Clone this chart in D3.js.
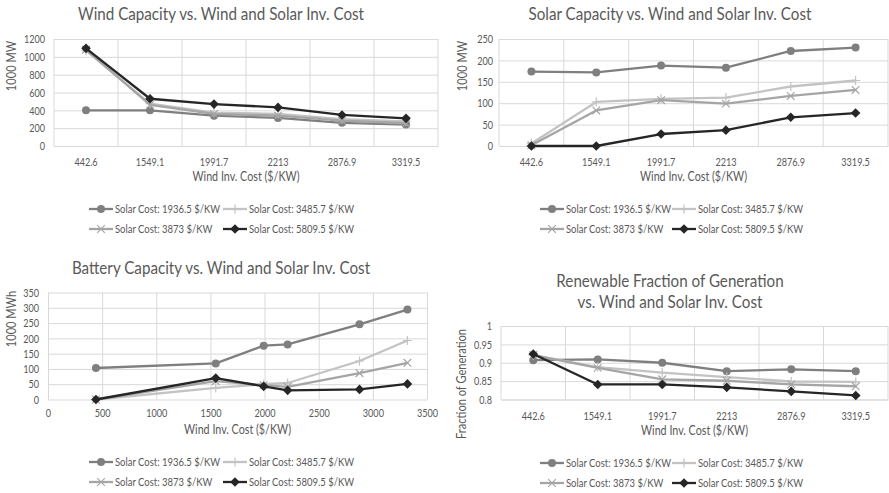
<!DOCTYPE html>
<html><head><meta charset="utf-8">
<script src="https://cdn.jsdelivr.net/npm/d3@7"></script>
<style>
body{margin:0;background:#fff;}
svg text{font-family:Lato,"Open Sans",sans-serif;fill:#595959;}
</style>
</head><body>
<svg id="chart" width="889" height="493"></svg>
<script>
// ---------- data ----------
const windCosts = [442.6, 1549.1, 1991.7, 2213, 2876.9, 3319.5];
const windTickLabels = ["442.6", "1549.1", "1991.7", "2213", "2876.9", "3319.5"];
const seriesNames = ["Solar Cost: 1936.5 $/KW", "Solar Cost: 3485.7 $/KW", "Solar Cost: 3873 $/KW", "Solar Cost: 5809.5 $/KW"];

const windCap1936 = [400, 400, 340, 315, 260, 240];
const windCap3486 = [1070, 475, 375, 360, 300, 275];
const windCap3873 = [1080, 460, 360, 340, 285, 255];
const windCap5810 = [1095, 530, 470, 433, 348, 310];

const solarCap1936 = [174, 172, 188, 183, 222, 230];
const solarCap3486 = [6, 103, 110, 113, 139, 153];
const solarCap3873 = [2, 83, 107, 99, 117, 131];
const solarCap5810 = [0, 0, 28, 37, 67, 77];

const battCap1936 = [103, 118, 176, 180, 246, 294];
const battCap3486 = [0, 38, 50, 54, 126, 193];
const battCap3873 = [0, 60, 47, 41, 86, 120];
const battCap5810 = [0, 70, 43, 30, 33, 51];

const renFrac1936 = [0.907, 0.909, 0.900, 0.877, 0.882, 0.877];
const renFrac3486 = [0.921, 0.888, 0.873, 0.861, 0.849, 0.848];
const renFrac3873 = [0.921, 0.886, 0.855, 0.851, 0.841, 0.836];
const renFrac5810 = [0.924, 0.841, 0.841, 0.833, 0.822, 0.811];

const windYTicks = [0, 200, 400, 600, 800, 1000, 1200];
const solarYTicks = [0, 50, 100, 150, 200, 250];
const battYTicks = [0, 50, 100, 150, 200, 250, 300, 350];
const battXTicks = [0, 500, 1000, 1500, 2000, 2500, 3000, 3500];
const fracYTicks = [0.8, 0.85, 0.9, 0.95, 1];

// ---------- styles ----------
const COLORS = ["#7f7f7f", "#c3c3c3", "#a5a5a5", "#262626"];
const MARKERS = ["circle", "plus", "cross", "diamond"];
const GRID = "#d9d9d9";
const FONT = { tick: 11.5, title: 17, axisTitle: 12.5, legend: 12 };

const svg = d3.select("#chart");

// horizontal compression factor so that a sample string reaches a target width
function factorFor(sample, size, target) {
  const t = svg.append("text").style("font-size", size + "px").text(sample);
  const w = t.node().getComputedTextLength();
  t.remove();
  return target / w;
}
const SQ = {
  tick: factorFor("1549.1", FONT.tick, 28.5),
  title: factorFor("Wind Capacity vs. Wind and Solar Inv. Cost", FONT.title, 286),
  xTitle: factorFor("Wind Inv. Cost ($/KW)", FONT.axisTitle, 107),
  yTitle: factorFor("Fraction of Generation", FONT.axisTitle, 110),
  legend: factorFor("Solar Cost: 1936.5 $/KW", FONT.legend, 105)
};

function squeeze(f) {
  return sel => sel.each(function () {
    const w = this.getComputedTextLength();
    d3.select(this).attr("textLength", w * f).attr("lengthAdjust", "spacingAndGlyphs");
  });
}

function drawMarker(g, type, x, y, color) {
  if (type === "circle") {
    g.append("circle").attr("cx", x).attr("cy", y).attr("r", 4).attr("fill", color);
  } else if (type === "diamond") {
    const s = 4.8;
    g.append("path").attr("d", `M${x},${y - s}L${x + s},${y}L${x},${y + s}L${x - s},${y}Z`).attr("fill", color);
  } else if (type === "plus") {
    const s = 4.6;
    g.append("path").attr("d", `M${x - s},${y}H${x + s}M${x},${y - s}V${y + s}`).attr("stroke", color).attr("stroke-width", 1.2).attr("fill", "none");
  } else if (type === "cross") {
    const s = 3.8;
    g.append("path").attr("d", `M${x - s},${y - s}L${x + s},${y + s}M${x - s},${y + s}L${x + s},${y - s}`).attr("stroke", color).attr("stroke-width", 1.2).attr("fill", "none");
  }
}

function panel(cfg) {
  const g = svg.append("g");
  const y = d3.scaleLinear().domain(cfg.yDomain).range([cfg.bottom, cfg.top]);
  let x, xPos;
  if (cfg.numericX) {
    x = d3.scaleLinear().domain(cfg.xDomain).range([cfg.left, cfg.right]);
    xPos = d => x(d);
  } else {
    x = d3.scaleBand().domain(windTickLabels).range([cfg.left, cfg.right]).padding(0);
    xPos = (d, i) => x(windTickLabels[i]) + x.bandwidth() / 2;
  }

  // horizontal gridlines + y labels
  const yAxis = d3.axisLeft(y).tickValues(cfg.yTicks).tickSize(-(cfg.right - cfg.left)).tickPadding(cfg.yPad).tickFormat(d => String(d));
  const ya = g.append("g").attr("transform", `translate(${cfg.left},0)`).call(yAxis);
  ya.select(".domain").remove();
  ya.selectAll(".tick line").attr("stroke", GRID).attr("stroke-width", 1);
  ya.selectAll(".tick text").style("font-size", FONT.tick + "px").attr("fill", "#595959").call(squeeze(SQ.tick));

  // vertical gridlines + x labels
  if (cfg.numericX) {
    const xAxis = d3.axisBottom(x).tickValues(cfg.xTicks).tickSize(-(cfg.bottom - cfg.top)).tickPadding(9).tickFormat(d => String(d));
    const xa = g.append("g").attr("transform", `translate(0,${cfg.bottom})`).call(xAxis);
    xa.select(".domain").remove();
    xa.selectAll(".tick line").attr("stroke", GRID);
    xa.selectAll(".tick text").style("font-size", FONT.tick + "px").attr("fill", "#595959").call(squeeze(SQ.tick));
  } else {
    const bounds = windTickLabels.map(c => x(c)).concat([cfg.right]);
    g.selectAll("line.vg").data(bounds).join("line").attr("class", "vg")
      .attr("x1", d => d).attr("x2", d => d).attr("y1", cfg.top).attr("y2", cfg.bottom)
      .attr("stroke", GRID);
    const xAxis = d3.axisBottom(x).tickSize(0).tickPadding(12);
    const xa = g.append("g").attr("transform", `translate(0,${cfg.bottom})`).call(xAxis);
    xa.select(".domain").attr("stroke", GRID);
    xa.selectAll(".tick text").style("font-size", FONT.tick + "px").attr("fill", "#595959").call(squeeze(SQ.tick));
  }

  // series
  cfg.series.forEach((vals, si) => {
    const pts = vals.map((v, i) => [xPos(windCosts[i], i), y(v)]);
    g.append("path").attr("d", d3.line()(pts)).attr("fill", "none")
      .attr("stroke", COLORS[si]).attr("stroke-width", 2.3).attr("stroke-linejoin", "round");
    pts.forEach(p => drawMarker(g, MARKERS[si], p[0], p[1], COLORS[si]));
  });

  // title
  const t = g.append("text").attr("x", cfg.titleX).attr("text-anchor", "middle").style("font-size", FONT.title + "px");
  cfg.title.forEach((line, i) => t.append("tspan").attr("x", cfg.titleX).attr("y", cfg.titleY + i * 21).text(line));
  t.selectAll("tspan").call(squeeze(SQ.title));

  // axis titles
  g.append("text").attr("x", (cfg.left + cfg.right) / 2).attr("y", cfg.xTitleY).attr("text-anchor", "middle")
    .style("font-size", FONT.axisTitle + "px").text("Wind Inv. Cost ($/KW)").call(squeeze(SQ.xTitle));
  g.append("text").attr("transform", `translate(${cfg.yTitleX},${cfg.yTitleY}) rotate(-90)`).attr("text-anchor", "middle")
    .style("font-size", FONT.axisTitle + "px").text(cfg.yTitle).call(squeeze(SQ.yTitle));

  // legend
  const lg = g.append("g");
  seriesNames.forEach((name, si) => {
    const row = Math.floor(si / 2), col = si % 2;
    const lx = cfg.legendX[col], ly = cfg.legendY + row * 20;
    lg.append("line").attr("x1", lx).attr("x2", lx + 24).attr("y1", ly).attr("y2", ly)
      .attr("stroke", COLORS[si]).attr("stroke-width", 2.3);
    drawMarker(lg, MARKERS[si], lx + 12, ly, COLORS[si]);
    lg.append("text").attr("x", lx + 26).attr("y", ly + 4.2).style("font-size", FONT.legend + "px").text(name).call(squeeze(SQ.legend));
  });
}

panel({
  title: ["Wind Capacity vs. Wind and Solar Inv. Cost"], titleX: 221, titleY: 20,
  left: 54, right: 438, top: 39, bottom: 146,
  yDomain: [0, 1200], yTicks: windYTicks, yPad: 9,
  series: [windCap1936, windCap3486, windCap3873, windCap5810],
  yTitle: "1000 MW", yTitleX: 16, yTitleY: 66, xTitleY: 181,
  legendX: [89, 223], legendY: 209
});

panel({
  title: ["Solar Capacity vs. Wind and Solar Inv. Cost"], titleX: 670, titleY: 20,
  left: 499, right: 888, top: 39, bottom: 146,
  yDomain: [0, 250], yTicks: solarYTicks, yPad: 6,
  series: [solarCap1936, solarCap3486, solarCap3873, solarCap5810],
  yTitle: "1000 MW", yTitleX: 467, yTitleY: 66, xTitleY: 181,
  legendX: [540, 672], legendY: 209
});

panel({
  title: ["Battery Capacity vs. Wind and Solar Inv. Cost"], titleX: 221, titleY: 274,
  left: 48, right: 427, top: 292.5, bottom: 399.5, numericX: true,
  xDomain: [0, 3500], xTicks: battXTicks,
  yDomain: [0, 350], yTicks: battYTicks, yPad: 9,
  series: [battCap1936, battCap3486, battCap3873, battCap5810],
  yTitle: "1000 MWh", yTitleX: 16, yTitleY: 319, xTitleY: 434,
  legendX: [89, 223], legendY: 462
});

panel({
  title: ["Renewable Fraction of Generation", "vs. Wind and Solar Inv. Cost"], titleX: 670, titleY: 287,
  left: 501, right: 888, top: 326, bottom: 399.5,
  yDomain: [0.8, 1], yTicks: fracYTicks, yPad: 9,
  series: [renFrac1936, renFrac3486, renFrac3873, renFrac5810],
  yTitle: "Fraction of Generation", yTitleX: 466, yTitleY: 384, xTitleY: 435,
  legendX: [540, 672], legendY: 463
});
</script>
</body></html>
